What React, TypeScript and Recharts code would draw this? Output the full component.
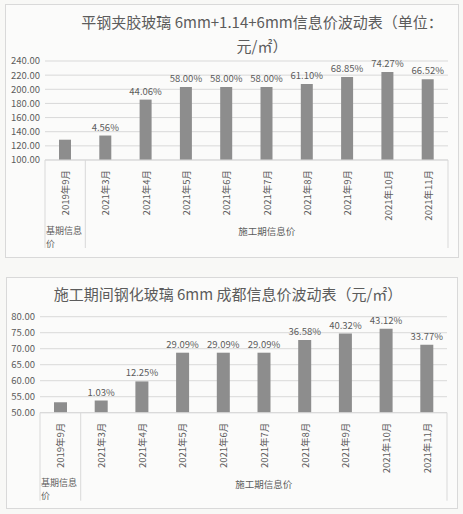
import React from 'react';
import { BarChart, Bar, XAxis, YAxis, CartesianGrid, LabelList } from 'recharts';

const months = [
    '2019年9月', '2021年3月', '2021年4月', '2021年5月', '2021年6月',
    '2021年7月', '2021年8月', '2021年9月', '2021年10月', '2021年11月'
];
const laminatedPrices = [128.7, 134.6, 185.4, 203.3, 203.3, 203.3, 207.3, 217.3, 224.3, 214.3];
const laminatedChanges = ['', '4.56%', '44.06%', '58.00%', '58.00%', '58.00%', '61.10%', '68.85%', '74.27%', '66.52%'];
const temperedPrices = [53.26, 53.81, 59.78, 68.75, 68.75, 68.75, 72.74, 74.73, 76.23, 71.25];
const temperedChanges = ['', '1.03%', '12.25%', '29.09%', '29.09%', '29.09%', '36.58%', '40.32%', '43.12%', '33.77%'];
const groupNames = ['基期信息价', '施工期信息价'];
const groupSpans = [1, 9];
const laminatedTicks = [100, 120, 140, 160, 180, 200, 220, 240];
const temperedTicks = [50, 55, 60, 65, 70, 75, 80];
const laminatedTitle = ['平钢夹胶玻璃 6mm+1.14+6mm信息价波动表（单位：', '元/㎡）'];
const temperedTitle = ['施工期间钢化玻璃 6mm 成都信息价波动表（元/㎡）'];

const FONT = "'Noto Sans CJK SC', 'Noto Sans', sans-serif";
const TEXT = '#5c5c5c';
const LINE = '#d9d9d9';
const BAR = '#8d8d8d';

const laminatedData = months.map((month, i) => ({ month, price: laminatedPrices[i], change: laminatedChanges[i] }));
const temperedData = months.map((month, i) => ({ month, price: temperedPrices[i], change: temperedChanges[i] }));

// month label rotated, plus the second row of group labels and box lines
const CategoryTick = (props: any) => {
    const { x, index, payload, base, band } = props;
    const items: React.ReactNode[] = [];
    let start = 0;
    groupSpans.forEach((span, g) => {
        if (index === start) {
            items.push(<line key={`l${g}`} x1={x - band / 2} x2={x - band / 2} y1={base} y2={base + 88} stroke={LINE} />);
            if (span === 1) {
                const name = groupNames[g];
                const lines = [name.slice(0, 4), name.slice(4)];
                lines.forEach((t, k) => (
                    items.push(
                        <text key={`t${g}${k}`} x={x - band / 2 + 1} y={base + 70 + k * 13} fontSize={9} fill={TEXT}
                            textAnchor="start" dominantBaseline="central">{t}</text>
                    )
                ));
            }
        }
        if (span > 1 && index === start + Math.floor(span / 2)) {
            const cx = x + (start + (span - 1) / 2 - index) * band;
            items.push(
                <text key={`g${g}`} x={cx} y={base + 71} fontSize={9.5} fill={TEXT} textAnchor="middle" dominantBaseline="central">
                    {groupNames[g]}
                </text>
            );
        }
        start += span;
    });
    if (index === months.length - 1) {
        items.push(<line key="end" x1={x + band / 2} x2={x + band / 2} y1={base} y2={base + 88} stroke={LINE} />);
    }
    return (
        <g>
            <text transform={`translate(${x},${base + 10}) rotate(-90)`} fontSize={9.5} fill={TEXT}
                textAnchor="end" dominantBaseline="central">{payload.value}</text>
            {items}
        </g>
    );
};

const titleStyle: React.CSSProperties = {
    position: 'absolute', textAlign: 'center', fontSize: 15, color: TEXT, whiteSpace: 'nowrap', lineHeight: '24px'
};

const App: React.FC = () => {
    return (
        <div style={{ position: 'absolute', left: 0, top: 0, width: 463, height: 514, background: '#f8f8f6', fontFamily: FONT }}>
            <div style={{ position: 'absolute', left: 5, top: 4, width: 452, height: 252, border: `1px solid ${LINE}`, background: '#fbfbfa' }} />
            <div style={{ position: 'absolute', left: 6, top: 277, width: 450, height: 230, border: `1px solid ${LINE}`, background: '#fbfbfa' }} />

            <div style={{ ...titleStyle, left: 62, top: 10, width: 400 }}>
                {laminatedTitle.map((t) => <div key={t}>{t}</div>)}
            </div>
            <div style={{ ...titleStyle, left: 28, top: 282, width: 400 }}>
                {temperedTitle.map((t) => <div key={t}>{t}</div>)}
            </div>

            <div style={{ position: 'absolute', left: 0, top: 0 }}>
                <BarChart width={463} height={260} data={laminatedData} margin={{ top: 61, right: 15, bottom: 0, left: 0 }}
                    style={{ fontFamily: FONT }}>
                    <CartesianGrid vertical={false} stroke={LINE} />
                    <XAxis dataKey="month" height={100} interval={0} tickLine={false} axisLine={{ stroke: LINE }}
                        tick={(p: any) => <CategoryTick {...p} base={160} band={40.3} />} />
                    <YAxis width={45} domain={[100, 240]} ticks={laminatedTicks} interval={0} axisLine={false} tickLine={false}
                        tickSize={3} tickMargin={2} tick={{ fontSize: 9.5, fill: TEXT }} tickFormatter={(v: number) => v.toFixed(2)} />
                    <Bar dataKey="price" fill={BAR} barSize={12} isAnimationActive={false}>
                        <LabelList dataKey="change" position="top" fontSize={9.5} fill={TEXT} />
                    </Bar>
                </BarChart>
            </div>

            <div style={{ position: 'absolute', left: 0, top: 270 }}>
                <BarChart width={463} height={240} data={temperedData} margin={{ top: 46.7, right: 16, bottom: 0, left: 0 }}
                    style={{ fontFamily: FONT }}>
                    <CartesianGrid vertical={false} stroke={LINE} />
                    <XAxis dataKey="month" height={97.3} interval={0} tickLine={false} axisLine={{ stroke: LINE }}
                        tick={(p: any) => <CategoryTick {...p} base={142.7} band={40.7} />} />
                    <YAxis width={40} domain={[50, 80]} ticks={temperedTicks} interval={0} axisLine={false} tickLine={false}
                        tickSize={3} tickMargin={2} tick={{ fontSize: 9.5, fill: TEXT }} tickFormatter={(v: number) => v.toFixed(2)} />
                    <Bar dataKey="price" fill={BAR} barSize={13} isAnimationActive={false}>
                        <LabelList dataKey="change" position="top" fontSize={9.5} fill={TEXT} />
                    </Bar>
                </BarChart>
            </div>
        </div>
    );
};

export default App;
